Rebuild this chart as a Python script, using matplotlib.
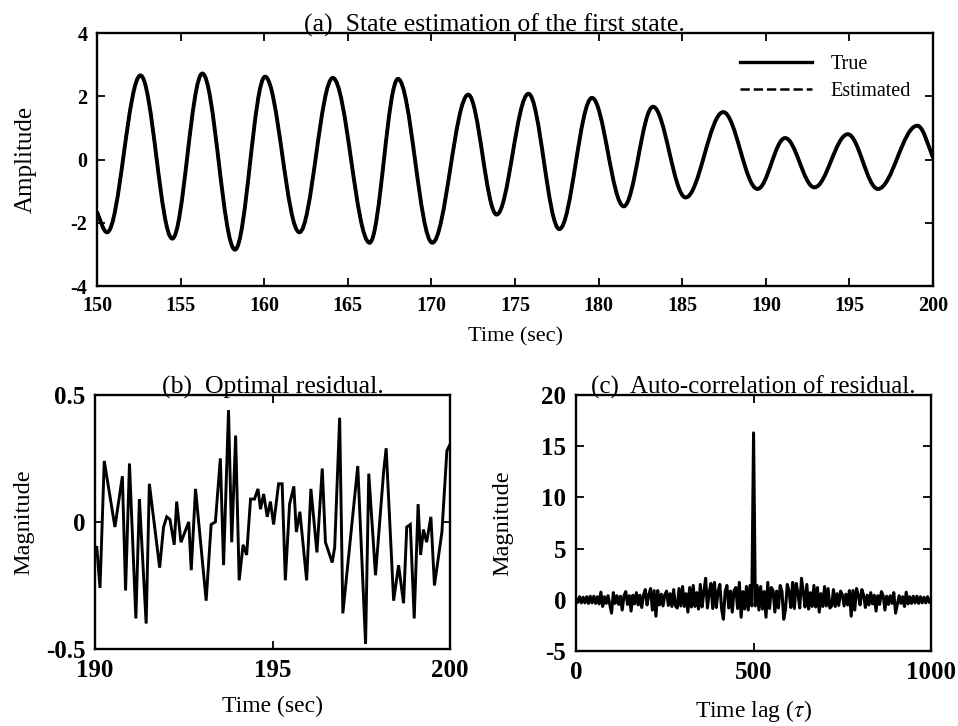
import matplotlib
matplotlib.use("Agg")
import matplotlib.pyplot as plt
import numpy as np
from matplotlib.path import Path
from matplotlib.patches import PathPatch
from matplotlib.lines import Line2D

plt.rcParams['font.family'] = ['Liberation Serif', 'DejaVu Serif']
plt.rcParams['axes.unicode_minus'] = False
plt.rcParams['mathtext.fontset'] = 'stix'

# (a) first state: turning points of the trajectory (time, amplitude)
state_t = [150.0, 150.6, 152.6, 154.5, 156.3, 158.25, 160.05, 162.1, 164.1,
           166.3, 168.0, 170.05, 172.2, 173.9, 175.8, 177.65, 179.6, 181.5,
           183.25, 185.2, 187.45, 189.5, 191.15, 192.9, 194.9, 196.7, 199.05,
           200.0]
state_true = [-1.65, -2.3, 2.66, -2.5, 2.72, -2.85, 2.62, -2.3, 2.58,
              -2.63, 2.55, -2.63, 2.05, -1.74, 2.08, -2.2, 1.95, -1.48,
              1.67, -1.2, 1.5, -0.93, 0.68, -0.88, 0.8, -0.93, 1.07,
              0.05]
state_est = [-1.65, -2.3, 2.66, -2.5, 2.72, -2.85, 2.62, -2.3, 2.58,
             -2.63, 2.55, -2.63, 2.05, -1.74, 2.08, -2.2, 1.95, -1.48,
             1.67, -1.2, 1.5, -0.93, 0.68, -0.88, 0.8, -0.93, 1.07,
             0.05]

# (b) optimal residual, 190-200 s
resid_t = [190.05, 190.14, 190.26, 190.56, 190.77, 190.86, 190.97, 191.15,
           191.25, 191.44, 191.53, 191.82, 191.93, 192.02, 192.11, 192.23,
           192.3, 192.42, 192.64, 192.71, 192.83, 193.13, 193.27, 193.39,
           193.53, 193.62, 193.76, 193.85, 193.96, 194.06, 194.17, 194.27,
           194.38, 194.49, 194.59, 194.66, 194.75, 194.85, 194.94, 195.03,
           195.17, 195.27, 195.36, 195.48, 195.6, 195.67, 195.77, 195.96,
           196.08, 196.25, 196.4, 196.49, 196.68, 196.75, 196.89, 196.98,
           197.4, 197.62, 197.71, 197.9, 198.13, 198.2, 198.41, 198.55,
           198.69, 198.78, 198.88, 198.99, 199.1, 199.17, 199.25, 199.34,
           199.46, 199.56, 199.77, 199.91, 199.98]
resid_v = [-0.10, -0.26, 0.24, -0.02, 0.18, -0.27, 0.23, -0.38,
           0.09, -0.40, 0.15, -0.18, -0.02, 0.02, 0.01, -0.09,
           0.08, -0.08, 0.00, -0.19, 0.13, -0.31, -0.01, 0.00,
           0.25, -0.17, 0.44, -0.08, 0.34, -0.23, -0.09, -0.13,
           0.09, 0.09, 0.13, 0.05, 0.11, 0.02, 0.08, -0.01,
           0.15, 0.15, -0.23, 0.07, 0.14, -0.04, 0.04, -0.23,
           0.13, -0.12, 0.21, -0.08, -0.16, -0.10, 0.41, -0.36,
           0.22, -0.48, 0.19, -0.21, 0.20, 0.29, -0.31, -0.17,
           -0.32, -0.02, -0.01, -0.38, 0.07, -0.13, -0.03, -0.08,
           0.02, -0.25, -0.04, 0.28, 0.30]

# (c) auto-correlation of the residual, lags 0..500 (symmetric about 500)
acf_half = [0.1, -0.25, 0.3, -0.3, 0.25, -0.3, 0.3, -0.35, 0.35, -0.3,
            0.35, -0.35, 0.3, -0.4, 0.75, -0.65, 0.3, -0.35, 0.4, -0.45,
            -1.3, 0.7, -0.35, 0.4, -0.45, 0.35, -1.0, 0.4, 0.8, -0.45,
            0.4, -1.1, 0.45, -0.4, 0.7, -0.5, 0.45, -0.75, 0.45, 1.0,
            -0.5, 0.5, 1.1, -1.0, 0.9, -1.6, 0.9, -0.5, 0.55, -0.6,
            0.5, 0.85, -0.55, 0.6, -0.65, 1.0, -0.6, -0.8, 1.1, -0.6,
            1.3, -0.65, 0.6, -1.2, 1.2, -0.7, 1.4, -0.65, 0.7, -0.9,
            1.5, -0.7, 0.75, 2.1, -0.8, 0.7, 1.6, -0.85, 1.7, -0.75,
            0.8, 1.5, -0.9, -1.9, 0.8, 1.4, -0.8, 0.85, -1.2, 0.9,
            1.2, -0.85, 1.7, -1.7, 0.8, -0.9, 1.3, -1.0, 1.4, -0.6,
            16.3]
acf_step = 5


def smooth_path(t, v):
    """Cubic Bezier path through turning points with flat tangents."""
    verts = [(t[0], v[0])]
    codes = [Path.MOVETO]
    n = len(t)
    for i in range(n - 1):
        d = (t[i + 1] - t[i]) * 0.36
        dv = v[i + 1] - v[i]
        y1 = v[i] if 0 < i else v[i] + 0.45 * dv
        y2 = v[i + 1] if i + 1 < n - 1 else v[i + 1] - 0.45 * dv
        verts += [(t[i] + d, y1), (t[i + 1] - d, y2), (t[i + 1], v[i + 1])]
        codes += [Path.CURVE4] * 3
    return Path(verts, codes)


def style_axes(ax, tick_size):
    ax.tick_params(direction='in', top=True, right=True, length=6, width=1.3,
                   labelsize=tick_size, pad=7)
    for lbl in ax.get_xticklabels() + ax.get_yticklabels():
        lbl.set_fontweight('bold')
    for sp in ax.spines.values():
        sp.set_linewidth(1.7)


fig = plt.figure(figsize=(9.58, 7.26), dpi=100)

# (a) state estimation
ax1 = fig.add_axes([0.1013, 0.606, 0.8727, 0.3485])
ax1.add_patch(PathPatch(smooth_path(state_t, state_true), fill=False,
                        lw=2.8, ec='black', transform=ax1.transData))
ax1.add_patch(PathPatch(smooth_path(state_t, state_est), fill=False,
                        lw=2.0, ec='black', ls='--', transform=ax1.transData))
ax1.set_xlim(150, 200)
ax1.set_ylim(-4, 4)
ax1.set_xticks(np.arange(150, 201, 5))
ax1.set_yticks([-4, -2, 0, 2, 4])
ax1.set_xlabel('Time (sec)', fontsize=16, labelpad=8)
ax1.set_ylabel('Amplitude', fontsize=18, labelpad=24)
ax1.set_title('(a)  State estimation of the first state.', fontsize=18.5,
              pad=1, x=0.475)
handles = [Line2D([], [], color='black', lw=2.4, ls='-'),
           Line2D([], [], color='black', lw=1.8, ls='--')]
ax1.legend(handles, ['True', 'Estimated'], loc='upper right', frameon=False,
           fontsize=14.5, handlelength=3.6, handletextpad=0.9,
           labelspacing=0.4, borderaxespad=0.7)
style_axes(ax1, 14.5)

# (b) optimal residual
ax2 = fig.add_axes([0.0992, 0.1061, 0.3706, 0.35])
ax2.plot(resid_t, resid_v, color='black', lw=2.1, solid_joinstyle='miter')
ax2.set_xlim(190, 200)
ax2.set_ylim(-0.5, 0.5)
ax2.set_xticks([190, 195, 200])
ax2.set_yticks([-0.5, 0, 0.5])
ax2.set_yticklabels(['-0.5', '0', '0.5'])
ax2.set_xlabel('Time (sec)', fontsize=17, labelpad=10)
ax2.set_ylabel('Magnitude', fontsize=17.5, labelpad=8)
ax2.set_title('(b)  Optimal residual.', fontsize=18.5, pad=1)
style_axes(ax2, 18)

# (c) auto-correlation of residual
acf = np.concatenate([acf_half, acf_half[-2::-1]])
lags = np.arange(len(acf)) * acf_step
ax3 = fig.add_axes([0.6013, 0.1033, 0.3706, 0.3526])
ax3.plot(lags, acf, color='black', lw=2.2)
ax3.set_xlim(0, 1000)
ax3.set_ylim(-5, 20)
ax3.set_xticks([0, 500, 1000])
ax3.set_yticks([-5, 0, 5, 10, 15, 20])
ax3.set_xlabel('Time lag ($\\tau$)', fontsize=17, labelpad=10)
ax3.set_ylabel('Magnitude', fontsize=17.5, labelpad=20)
ax3.set_title('(c)  Auto-correlation of residual.', fontsize=18, pad=1)
style_axes(ax3, 18)

fig.savefig('out.png', dpi=100)
